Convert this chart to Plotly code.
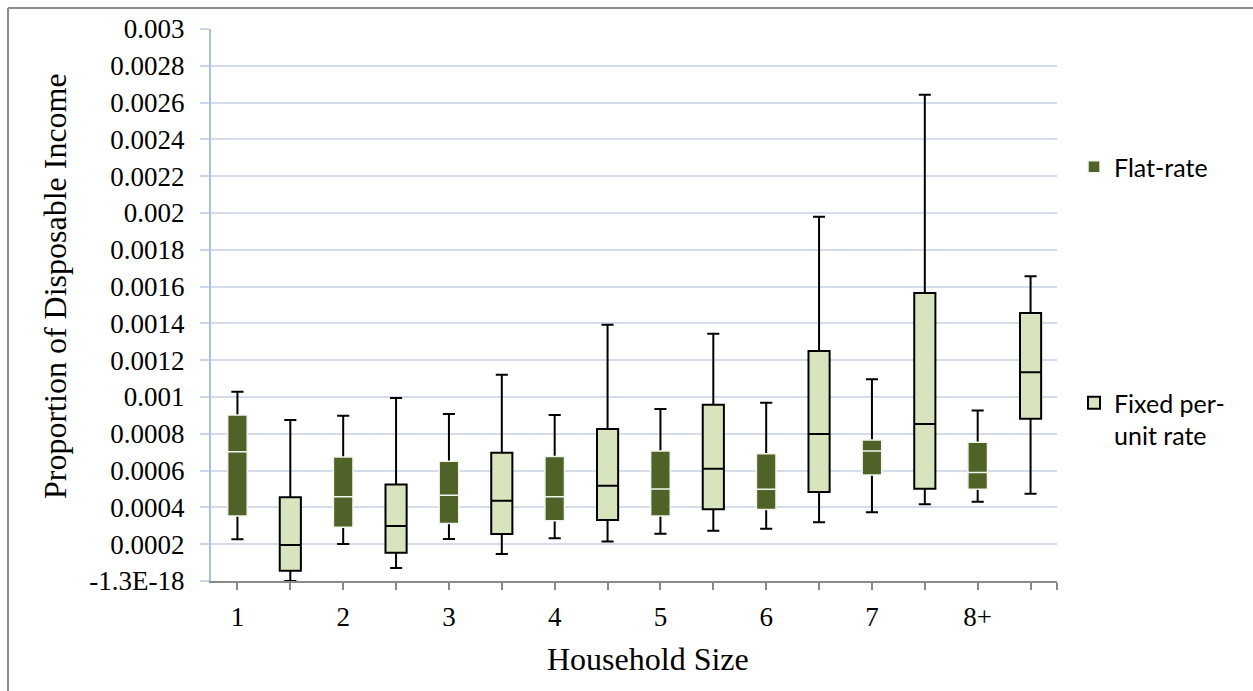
import plotly.graph_objects as go

# ---- data ----
sizes = ["1", "2", "3", "4", "5", "6", "7", "8+"]

flat_lo  = [0.000227, 0.000201, 0.000228, 0.000232, 0.000257, 0.000284, 0.000373, 0.000431]
flat_q1  = [0.000353, 0.000292, 0.000313, 0.000328, 0.000353, 0.000388, 0.000576, 0.000498]
flat_med = [0.000703, 0.000458, 0.000466, 0.000458, 0.000500, 0.000498, 0.000707, 0.000589]
flat_q3  = [0.000902, 0.000674, 0.000651, 0.000676, 0.000707, 0.000692, 0.000766, 0.000754]
flat_hi  = [0.001029, 0.000898, 0.000908, 0.000902, 0.000935, 0.000969, 0.001096, 0.000926]

fixed_lo  = [0.000000, 0.000071, 0.000147, 0.000214, 0.000273, 0.000319, 0.000417, 0.000474]
fixed_q1  = [0.000056, 0.000154, 0.000255, 0.000332, 0.000390, 0.000484, 0.000502, 0.000882]
fixed_med = [0.000196, 0.000299, 0.000436, 0.000518, 0.000610, 0.000799, 0.000853, 0.001134]
fixed_q3  = [0.000455, 0.000525, 0.000697, 0.000826, 0.000958, 0.001250, 0.001565, 0.001457]
fixed_hi  = [0.000875, 0.000995, 0.001121, 0.001393, 0.001344, 0.001980, 0.002643, 0.001656]

y_tickvals = [i * 0.0002 for i in range(16)]
y_ticktext = ["-1.3E-18", "0.0002", "0.0004", "0.0006", "0.0008", "0.001", "0.0012",
              "0.0014", "0.0016", "0.0018", "0.002", "0.0022", "0.0024", "0.0026",
              "0.0028", "0.003"]

# ---- layout constants ----
W, H = 1253, 691
L, R, T, B = 211, 196, 29, 110
PW, PH = W - L - R, H - T - B

DARK = "#4F6228"
LIGHT = "#D7E4BD"

n = len(sizes)
flat_x = [2 * i for i in range(n)]
fixed_x = [2 * i + 1 for i in range(n)]

fig = go.Figure()

# Flat-rate whiskers (black), box collapsed at the median so it is hidden under the fill
fig.add_trace(go.Box(
    x=flat_x, q1=flat_med, median=flat_med, q3=flat_med,
    lowerfence=flat_lo, upperfence=flat_hi,
    width=0.37, whiskerwidth=0.62,
    line=dict(color="black", width=2), fillcolor="rgba(0,0,0,0)",
    boxpoints=False, showlegend=False, hoverinfo="skip",
))
# Flat-rate box body with white median
fig.add_trace(go.Box(
    x=flat_x, q1=flat_q1, median=flat_med, q3=flat_q3,
    lowerfence=flat_q1, upperfence=flat_q3,
    width=0.37, whiskerwidth=0,
    line=dict(color="#F2F5EC", width=1.5), fillcolor=DARK,
    boxpoints=False, name="Flat-rate", legend="legend",
))
# Fixed per-unit rate
fig.add_trace(go.Box(
    x=fixed_x, q1=fixed_q1, median=fixed_med, q3=fixed_q3,
    lowerfence=fixed_lo, upperfence=fixed_hi,
    width=0.40, whiskerwidth=0.57,
    line=dict(color="black", width=2), fillcolor=LIGHT,
    boxpoints=False, name="Fixed per-<br>unit rate", legend="legend2",
))

x_tickvals = list(range(2 * n)) + [2 * n - 0.5]
x_ticktext = []
for i in range(2 * n):
    x_ticktext.append(sizes[i // 2] if i % 2 == 0 else "")
x_ticktext.append("")

serif = "Liberation Serif"
sans = "Lato"

fig.update_layout(
    width=W, height=H,
    margin=dict(l=L, r=R, t=T, b=B),
    paper_bgcolor="white", plot_bgcolor="white",
    boxmode="overlay",
    font=dict(family=serif, color="black", size=27),
    xaxis=dict(
        range=[-0.5, 2 * n - 0.5], tickmode="array",
        tickvals=x_tickvals, ticktext=x_ticktext,
        ticks="outside", ticklen=7, tickwidth=2, tickcolor="#898989",
        showline=True, linecolor="#898989", linewidth=2,
        showgrid=False, zeroline=False,
        tickfont=dict(family=serif, size=27, color="black"), ticklabelstandoff=4,
    ),
    xaxis2=dict(
        range=[-0.5, 2 * n - 0.5], overlaying="x", side="bottom", anchor="y",
        tickmode="array", tickvals=x_tickvals, ticktext=["" for _ in x_tickvals],
        ticks="inside", ticklen=7, tickwidth=2, tickcolor="#898989",
        showline=False, showgrid=False, zeroline=False, showticklabels=False,
    ),
    yaxis=dict(
        range=[0, 0.003], tickmode="array",
        tickvals=y_tickvals, ticktext=y_ticktext,
        ticks="outside", ticklen=9, tickwidth=2, tickcolor="#C9D6EE",
        showline=True, linecolor="#A9BFE6", linewidth=2,
        showgrid=True, gridcolor="#D5DDEC", gridwidth=1.5,
        zeroline=False, tickfont=dict(family=serif, size=27, color="black"),
        ticklabelstandoff=10,
    ),
    legend=dict(
        xref="container", yref="container",
        x=1074 / W, y=1 - 167 / H, xanchor="left", yanchor="middle",
        font=dict(family=sans, size=25, color="black"),
        bgcolor="rgba(0,0,0,0)", valign="top",
    ),
    legend2=dict(
        xref="container", yref="container",
        x=1074 / W, y=1 - 419 / H, xanchor="left", yanchor="middle",
        font=dict(family=sans, size=25, color="black"),
        bgcolor="rgba(0,0,0,0)", valign="top",
    ),
    annotations=[
        dict(text="Proportion of Disposable Income", xref="paper", yref="paper",
             x=(55 - L) / PW, y=(H - B - 286) / PH, textangle=-90,
             showarrow=False, xanchor="center", yanchor="middle",
             font=dict(family=serif, size=32, color="black")),
        dict(text="Household Size", xref="paper", yref="paper",
             x=(648 - L) / PW, y=(H - B - 659) / PH,
             showarrow=False, xanchor="center", yanchor="middle",
             font=dict(family=serif, size=32, color="black")),
    ],
    shapes=[
        dict(type="line", xref="paper", yref="paper",
             x0=(8 - L) / PW, x1=(8 - L) / PW,
             y0=(H - B - (H + 20)) / PH, y1=(H - B - 8) / PH,
             line=dict(color="#8C8C8C", width=2)),
        dict(type="line", xref="paper", yref="paper",
             x0=(8 - L) / PW, x1=(W + 20 - L) / PW,
             y0=(H - B - 8) / PH, y1=(H - B - 8) / PH,
             line=dict(color="#8C8C8C", width=2)),
    ],
)

fig.write_html("out.html")
